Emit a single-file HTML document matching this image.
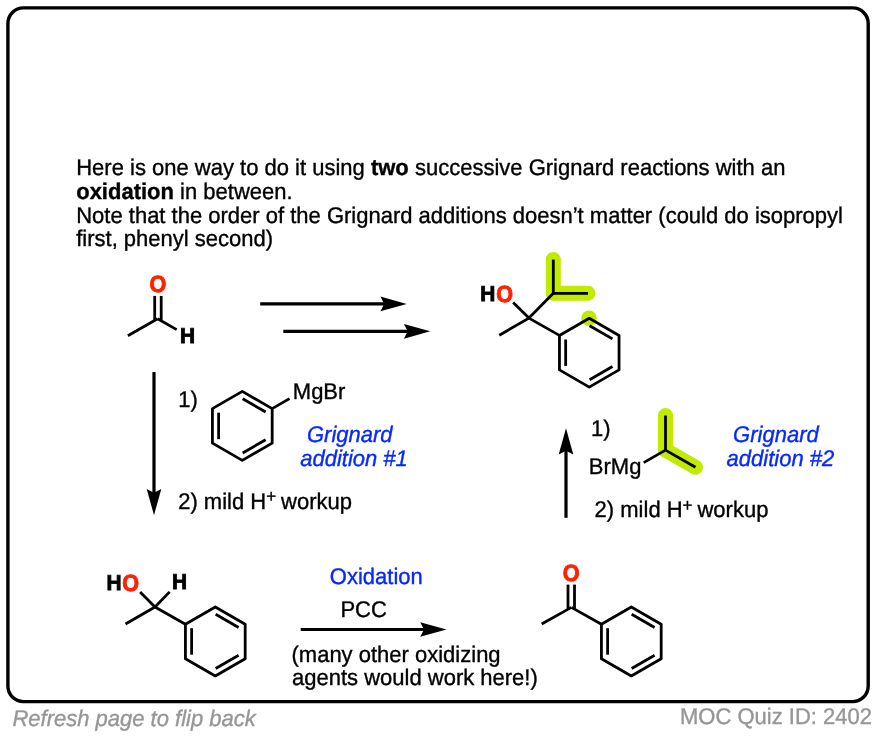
<!DOCTYPE html>
<html lang="en"><head><meta charset="utf-8"><title>MOC Quiz 2402</title>
<style>
html,body{margin:0;padding:0;background:#fff;}
body{width:876px;height:736px;overflow:hidden;}
svg{display:block;text-rendering:geometricPrecision;will-change:transform;font-family:'Liberation Sans', Arial, Helvetica, sans-serif;}
</style></head><body>
<svg width="876" height="736" viewBox="0 0 876 736">
<rect x="0" y="0" width="876" height="736" fill="#fff"/>
<rect x="7.9" y="7.9" width="860.3" height="693.7" rx="15.5" ry="15.5" fill="#fff" stroke="#000" stroke-width="3.4"/>
<text transform="translate(76.20,174.80) scale(1,1.03)" font-size="22" font-weight="normal" font-style="normal" fill="#000" stroke="#000" stroke-width="0.35" text-anchor="start" >Here is one way to do it using <tspan font-weight="bold">two</tspan> successive Grignard reactions with an</text>
<text transform="translate(76.20,198.70) scale(1,1.03)" font-size="22" font-weight="normal" font-style="normal" fill="#000" stroke="#000" stroke-width="0.35" text-anchor="start" ><tspan font-weight="bold">oxidation</tspan> in between.</text>
<text transform="translate(76.20,222.50) scale(1,1.03)" font-size="22" font-weight="normal" font-style="normal" fill="#000" stroke="#000" stroke-width="0.35" text-anchor="start" >Note that the order of the Grignard additions doesn’t matter (could do isopropyl</text>
<text transform="translate(76.20,246.40) scale(1,1.03)" font-size="22" font-weight="normal" font-style="normal" fill="#000" stroke="#000" stroke-width="0.35" text-anchor="start" >first, phenyl second)</text>
<line x1="157.60" y1="318.80" x2="127.90" y2="335.70" stroke="#000" stroke-width="2.8" stroke-linecap="butt"/>
<line x1="157.60" y1="318.80" x2="176.70" y2="329.60" stroke="#000" stroke-width="2.8" stroke-linecap="butt"/>
<line x1="154.70" y1="295.90" x2="154.70" y2="320.00" stroke="#000" stroke-width="2.8" stroke-linecap="butt"/>
<line x1="161.20" y1="295.90" x2="161.20" y2="320.00" stroke="#000" stroke-width="2.8" stroke-linecap="butt"/>
<text transform="translate(149.39,291.87) scale(0.9810,1.0627)" font-size="22" font-weight="bold" fill="#ff2200" stroke="#ff2200" stroke-width="0.9" stroke-linejoin="round">O</text>
<text transform="translate(180.09,343.45) scale(0.9476,0.9816)" font-size="22" font-weight="bold" fill="#000" stroke="#000" stroke-width="0.9" stroke-linejoin="miter">H</text>
<line x1="260.20" y1="303.90" x2="385.20" y2="303.90" stroke="#000" stroke-width="3.2" stroke-linecap="butt"/>
<path d="M406.70 303.90 L380.40 311.20 L384.20 303.90 L380.40 296.60 Z" fill="#000"/>
<line x1="283.30" y1="331.35" x2="408.70" y2="331.35" stroke="#000" stroke-width="3.2" stroke-linecap="butt"/>
<path d="M430.20 331.35 L403.90 338.65 L407.70 331.35 L403.90 324.05 Z" fill="#000"/>
<path d="M553.30 259.60 L553.30 293.30 L588.00 293.30" stroke="#c0ea00" stroke-width="15" fill="none" stroke-linejoin="round" stroke-linecap="round"/>
<circle cx="589.0" cy="318.3" r="7.8" fill="#c0ea00"/>
<line x1="528.95" y1="318.10" x2="499.30" y2="335.20" stroke="#000" stroke-width="2.8" stroke-linecap="butt"/>
<line x1="528.95" y1="318.10" x2="513.20" y2="302.60" stroke="#000" stroke-width="2.8" stroke-linecap="butt"/>
<line x1="528.95" y1="318.10" x2="553.30" y2="293.30" stroke="#000" stroke-width="2.8" stroke-linecap="butt"/>
<line x1="553.30" y1="294.30" x2="553.30" y2="259.60" stroke="#000" stroke-width="2.8" stroke-linecap="butt"/>
<line x1="552.30" y1="293.30" x2="588.00" y2="293.30" stroke="#000" stroke-width="2.8" stroke-linecap="butt"/>
<line x1="528.95" y1="318.10" x2="559.40" y2="335.40" stroke="#000" stroke-width="2.8" stroke-linecap="butt"/>
<path d="M589.25 318.30 L619.04 335.50 L619.04 369.90 L589.25 387.10 L559.46 369.90 L559.46 335.50 Z" stroke="#000" stroke-width="2.8" fill="none" stroke-linejoin="round" stroke-linecap="butt"/>
<line x1="589.61" y1="325.67" x2="612.48" y2="338.87" stroke="#000" stroke-width="2.8" stroke-linecap="butt"/>
<line x1="612.48" y1="366.53" x2="589.61" y2="379.73" stroke="#000" stroke-width="2.8" stroke-linecap="butt"/>
<line x1="565.66" y1="365.90" x2="565.66" y2="339.50" stroke="#000" stroke-width="2.8" stroke-linecap="butt"/>
<text transform="translate(480.34,301.25) scale(0.9476,0.9816)" font-size="22" font-weight="bold" fill="#000" stroke="#000" stroke-width="0.9" stroke-linejoin="miter">H</text>
<text transform="translate(496.29,301.87) scale(0.9810,1.0627)" font-size="22" font-weight="bold" fill="#ff2200" stroke="#ff2200" stroke-width="0.9" stroke-linejoin="round">O</text>
<line x1="154.00" y1="372.05" x2="154.00" y2="493.70" stroke="#000" stroke-width="3.2" stroke-linecap="butt"/>
<path d="M154.00 515.20 L146.70 488.90 L154.00 492.70 L161.30 488.90 Z" fill="#000"/>
<text transform="translate(178.30,407.00) scale(1,1.03)" font-size="22" font-weight="normal" font-style="normal" fill="#000" stroke="#000" stroke-width="0.35" text-anchor="start" >1)</text>
<path d="M242.30 391.40 L272.18 408.65 L272.18 443.15 L242.30 460.40 L212.42 443.15 L212.42 408.65 Z" stroke="#000" stroke-width="2.8" fill="none" stroke-linejoin="round" stroke-linecap="butt"/>
<line x1="242.66" y1="398.77" x2="265.61" y2="412.02" stroke="#000" stroke-width="2.8" stroke-linecap="butt"/>
<line x1="265.61" y1="439.78" x2="242.66" y2="453.03" stroke="#000" stroke-width="2.8" stroke-linecap="butt"/>
<line x1="218.62" y1="439.15" x2="218.62" y2="412.65" stroke="#000" stroke-width="2.8" stroke-linecap="butt"/>
<line x1="272.20" y1="408.65" x2="289.50" y2="398.60" stroke="#000" stroke-width="2.8" stroke-linecap="butt"/>
<text transform="translate(292.80,399.00) scale(1,1.03)" font-size="22" font-weight="normal" font-style="normal" fill="#000" stroke="#000" stroke-width="0.35" text-anchor="start" >MgBr</text>
<text transform="translate(349.80,441.70) scale(1,1.03)" font-size="22" font-weight="normal" font-style="italic" fill="#0428ff" stroke="#0428ff" stroke-width="0.35" text-anchor="middle" >Grignard</text>
<text transform="translate(354.00,466.00) scale(1,1.03)" font-size="22" font-weight="normal" font-style="italic" fill="#0428ff" stroke="#0428ff" stroke-width="0.35" text-anchor="middle" >addition #1</text>
<text transform="translate(178.20,509.00) scale(1,1.03)" font-size="22" font-weight="normal" font-style="normal" fill="#000" stroke="#000" stroke-width="0.35" text-anchor="start" >2) mild H<tspan font-size="17" dy="-6.5">+</tspan><tspan dy="6.5" dx="-1.2"> workup</tspan></text>
<line x1="566.00" y1="517.80" x2="566.00" y2="449.70" stroke="#000" stroke-width="3.2" stroke-linecap="butt"/>
<path d="M566.00 428.20 L573.30 454.50 L566.00 450.70 L558.70 454.50 Z" fill="#000"/>
<text transform="translate(591.00,435.50) scale(1,1.03)" font-size="22" font-weight="normal" font-style="normal" fill="#000" stroke="#000" stroke-width="0.35" text-anchor="start" >1)</text>
<text transform="translate(588.80,474.30) scale(1,1.03)" font-size="22" font-weight="normal" font-style="normal" fill="#000" stroke="#000" stroke-width="0.35" text-anchor="start" >BrMg</text>
<path d="M665.50 415.50 L665.50 450.10 L695.50 467.20" stroke="#c0ea00" stroke-width="15" fill="none" stroke-linejoin="round" stroke-linecap="round"/>
<line x1="665.50" y1="415.50" x2="665.50" y2="451.00" stroke="#000" stroke-width="2.8" stroke-linecap="butt"/>
<line x1="665.50" y1="450.10" x2="695.50" y2="467.20" stroke="#000" stroke-width="2.8" stroke-linecap="butt"/>
<line x1="665.50" y1="450.10" x2="643.70" y2="462.60" stroke="#000" stroke-width="2.8" stroke-linecap="butt"/>
<text transform="translate(775.90,441.80) scale(1,1.03)" font-size="22" font-weight="normal" font-style="italic" fill="#0428ff" stroke="#0428ff" stroke-width="0.35" text-anchor="middle" >Grignard</text>
<text transform="translate(780.40,465.50) scale(1,1.03)" font-size="22" font-weight="normal" font-style="italic" fill="#0428ff" stroke="#0428ff" stroke-width="0.35" text-anchor="middle" >addition #2</text>
<text transform="translate(594.60,517.40) scale(1,1.03)" font-size="22" font-weight="normal" font-style="normal" fill="#000" stroke="#000" stroke-width="0.35" text-anchor="start" >2) mild H<tspan font-size="17" dy="-6.5">+</tspan><tspan dy="6.5" dx="-1.2"> workup</tspan></text>
<line x1="155.00" y1="607.00" x2="125.50" y2="624.00" stroke="#000" stroke-width="2.8" stroke-linecap="butt"/>
<line x1="155.00" y1="607.00" x2="140.10" y2="591.90" stroke="#000" stroke-width="2.8" stroke-linecap="butt"/>
<line x1="155.00" y1="607.00" x2="169.60" y2="591.90" stroke="#000" stroke-width="2.8" stroke-linecap="butt"/>
<line x1="155.00" y1="607.00" x2="185.42" y2="624.20" stroke="#000" stroke-width="2.8" stroke-linecap="butt"/>
<path d="M215.30 606.95 L245.18 624.20 L245.18 658.70 L215.30 675.95 L185.42 658.70 L185.42 624.20 Z" stroke="#000" stroke-width="2.8" fill="none" stroke-linejoin="round" stroke-linecap="butt"/>
<line x1="215.66" y1="614.32" x2="238.61" y2="627.57" stroke="#000" stroke-width="2.8" stroke-linecap="butt"/>
<line x1="238.61" y1="655.33" x2="215.66" y2="668.58" stroke="#000" stroke-width="2.8" stroke-linecap="butt"/>
<line x1="191.62" y1="654.70" x2="191.62" y2="628.20" stroke="#000" stroke-width="2.8" stroke-linecap="butt"/>
<text transform="translate(106.44,590.25) scale(0.9476,0.9816)" font-size="22" font-weight="bold" fill="#000" stroke="#000" stroke-width="0.9" stroke-linejoin="miter">H</text>
<text transform="translate(122.34,590.82) scale(0.9810,1.0627)" font-size="22" font-weight="bold" fill="#ff2200" stroke="#ff2200" stroke-width="0.9" stroke-linejoin="round">O</text>
<text transform="translate(171.89,589.45) scale(0.9476,0.9816)" font-size="22" font-weight="bold" fill="#000" stroke="#000" stroke-width="0.9" stroke-linejoin="miter">H</text>
<text transform="translate(376.30,583.70) scale(1,1.03)" font-size="22" font-weight="normal" font-style="normal" fill="#0428ff" stroke="#0428ff" stroke-width="0.35" text-anchor="middle" >Oxidation</text>
<text transform="translate(363.60,617.00) scale(1,1.03)" font-size="22" font-weight="normal" font-style="normal" fill="#000" stroke="#000" stroke-width="0.35" text-anchor="middle" >PCC</text>
<line x1="300.70" y1="629.50" x2="425.00" y2="629.50" stroke="#000" stroke-width="3.2" stroke-linecap="butt"/>
<path d="M446.50 629.50 L420.20 636.80 L424.00 629.50 L420.20 622.20 Z" fill="#000"/>
<text transform="translate(291.50,661.80) scale(1,1.03)" font-size="22" font-weight="normal" font-style="normal" fill="#000" stroke="#000" stroke-width="0.35" text-anchor="start" >(many other oxidizing</text>
<text transform="translate(292.00,685.00) scale(1,1.03)" font-size="22" font-weight="normal" font-style="normal" fill="#000" stroke="#000" stroke-width="0.35" text-anchor="start" >agents would work here!)</text>
<line x1="571.40" y1="607.40" x2="541.70" y2="624.00" stroke="#000" stroke-width="2.8" stroke-linecap="butt"/>
<line x1="571.40" y1="607.40" x2="601.42" y2="624.20" stroke="#000" stroke-width="2.8" stroke-linecap="butt"/>
<line x1="568.00" y1="584.60" x2="568.00" y2="608.80" stroke="#000" stroke-width="2.8" stroke-linecap="butt"/>
<line x1="574.50" y1="584.60" x2="574.50" y2="608.80" stroke="#000" stroke-width="2.8" stroke-linecap="butt"/>
<text transform="translate(562.84,580.87) scale(0.9810,1.0627)" font-size="22" font-weight="bold" fill="#ff2200" stroke="#ff2200" stroke-width="0.9" stroke-linejoin="round">O</text>
<path d="M631.30 606.95 L661.18 624.20 L661.18 658.70 L631.30 675.95 L601.42 658.70 L601.42 624.20 Z" stroke="#000" stroke-width="2.8" fill="none" stroke-linejoin="round" stroke-linecap="butt"/>
<line x1="631.66" y1="614.32" x2="654.61" y2="627.57" stroke="#000" stroke-width="2.8" stroke-linecap="butt"/>
<line x1="654.61" y1="655.33" x2="631.66" y2="668.58" stroke="#000" stroke-width="2.8" stroke-linecap="butt"/>
<line x1="607.62" y1="654.70" x2="607.62" y2="628.20" stroke="#000" stroke-width="2.8" stroke-linecap="butt"/>
<text transform="translate(12.40,726.00) scale(1,1.03)" font-size="22" font-weight="normal" font-style="italic" fill="#969696" stroke="#969696" stroke-width="0.35" text-anchor="start" >Refresh page to flip back</text>
<text transform="translate(872.00,723.50) scale(1,1.03)" font-size="22" font-weight="normal" font-style="normal" fill="#969696" stroke="#969696" stroke-width="0.35" text-anchor="end" >MOC Quiz ID: 2402</text>
</svg>
</body></html>
